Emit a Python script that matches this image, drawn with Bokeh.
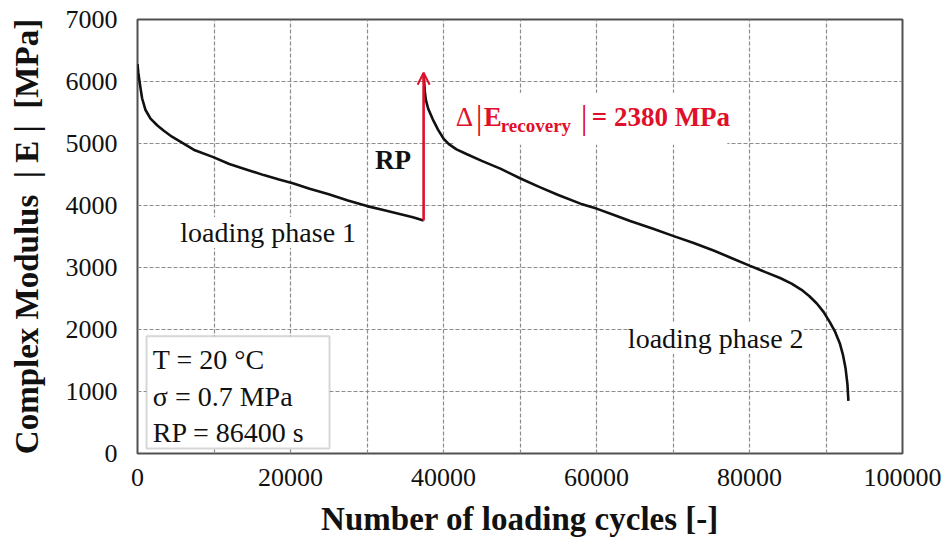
from bokeh.plotting import figure
from bokeh.models import (Label, BoxAnnotation, Arrow, OpenHead, FixedTicker,
                          SingleIntervalTicker, BasicTickFormatter, Range1d)
from bokeh.embed import file_html
from bokeh.resources import INLINE

# Complex modulus |E| [MPa] versus number of loading cycles
cycles_phase1 = [0, 100, 300, 600, 1050, 1700, 2600, 3400, 4500, 5600,
                 7500, 9900, 12000, 14500, 16500, 18500, 20300, 22500, 25000,
                 27500, 30000, 32000, 34000, 36000, 37400]
modulus_phase1 = [6280, 6150, 5970, 5730, 5540, 5400, 5290, 5210, 5110,
                  5030, 4890, 4780, 4670, 4570, 4490, 4420, 4360, 4270, 4180,
                  4080, 3990, 3930, 3870, 3810, 3760]

cycles_phase2 = [37400, 37550, 37700, 38000, 38600, 39300, 40000, 40700, 41700,
                 43000, 45000, 47500, 50000, 52500, 55000, 57900, 60000, 62200,
                 64400, 67400, 70000, 72700, 75300, 77700, 80000, 82000, 84000,
                 85500, 86800, 87800, 88800, 89700, 90500, 91200, 91800, 92200,
                 92550, 92800, 92930]
modulus_phase2 = [6140, 5850, 5700, 5560, 5390, 5220, 5080, 4990, 4905, 4830, 4720,
                  4590, 4440, 4300, 4170, 4030, 3950, 3850, 3750, 3625, 3510, 3395,
                  3275, 3150, 3030, 2930, 2830, 2740, 2640, 2540, 2420, 2280, 2120,
                  1960, 1780, 1600, 1380, 1120, 850]

# recovery after the rest period
rest_period_cycle = 37400
delta_e_recovery = 2380

x_ticks = [0, 20000, 40000, 60000, 80000, 100000]
y_ticks = [0, 1000, 2000, 3000, 4000, 5000, 6000, 7000]

test_conditions = ["T = 20 °C", "σ = 0.7 MPa", "RP = 86400 s"]

SERIF = "Liberation Serif"
RED = "#e0102a"
INK = "#111111"
NBSP = "\u00a0"

p = figure(frame_width=765, frame_height=434, min_border_left=137, min_border_right=47,
           min_border_top=19, min_border_bottom=90,
           x_range=Range1d(0, 100000), y_range=Range1d(0, 7000),
           output_backend="svg", toolbar_location=None)
p.background_fill_color = "white"
p.border_fill_color = "white"
p.outline_line_color = "#505050"
p.outline_line_width = 2

# axes
p.xaxis.ticker = FixedTicker(ticks=x_ticks)
p.yaxis.ticker = FixedTicker(ticks=y_ticks)
p.xaxis.formatter = BasicTickFormatter(use_scientific=False)
p.yaxis.formatter = BasicTickFormatter(use_scientific=False)
for ax in (p.xaxis[0], p.yaxis[0]):
    ax.axis_line_color = None
    ax.major_tick_line_color = None
    ax.minor_tick_line_color = None
    ax.major_label_text_font = SERIF
    ax.major_label_text_font_size = "26px"
    ax.major_label_text_color = INK
    ax.axis_label_text_font = SERIF
    ax.axis_label_text_font_style = "bold"
    ax.axis_label_text_font_size = "33px"
    ax.axis_label_text_color = INK
p.xaxis.axis_label = "Number of loading cycles [-]"
p.yaxis.axis_label = ("Complex Modulus" + NBSP * 2 + "|" + NBSP + "E" + NBSP + "|"
                      + NBSP * 2 + "[MPa]")
p.xaxis.major_label_standoff = 9
p.xaxis.axis_label_standoff = 12
p.yaxis.major_label_standoff = 14
p.yaxis.axis_label_standoff = 18

# grid
p.xgrid.ticker = SingleIntervalTicker(interval=10000)
p.ygrid.ticker = SingleIntervalTicker(interval=1000)
for g in (p.xgrid[0], p.ygrid[0]):
    g.grid_line_color = "#8c8c8c"
    g.grid_line_dash = "4 2"
    g.grid_line_width = 1.2

# curves
p.line(cycles_phase1, modulus_phase1, line_color=INK, line_width=2.6)
p.line(cycles_phase2, modulus_phase2, line_color=INK, line_width=2.6)

# recovery arrow
e_before = modulus_phase1[-1]
p.add_layout(Arrow(end=OpenHead(size=12, line_color=RED, line_width=2),
                   x_start=rest_period_cycle, y_start=e_before,
                   x_end=rest_period_cycle, y_end=e_before + delta_e_recovery,
                   line_color=RED, line_width=2.6))

p.add_layout(Label(x=33400, y=4730, text="RP", text_font=SERIF, text_font_style="bold",
                   text_font_size="27px", text_color=INK,
                   text_align="center", text_baseline="middle"))

p.add_layout(Label(x=5600, y=3565, text="loading phase 1", text_font=SERIF,
                   text_font_size="28px", text_color=INK,
                   text_align="left", text_baseline="middle",
                   background_fill_color="white"))
p.add_layout(Label(x=64100, y=1855, text="loading phase 2", text_font=SERIF,
                   text_font_size="28px", text_color=INK,
                   text_align="left", text_baseline="middle",
                   background_fill_color="white"))

# Δ|E_recovery| = 2380 MPa
ax0, ay0 = 41600, 5420
p.add_layout(BoxAnnotation(left=41300, right=77100, bottom=4980, top=5820,
                           fill_color="white", fill_alpha=1.0, line_color=None))
pieces = [
    ("Δ", 0, 0, "normal", "27px"),
    ("|", 20, 0, "normal", "34px"),
    ("E", 28, 0, "bold", "27px"),
    ("recovery", 45, -8, "bold", "19px"),
    ("|", 125, 0, "normal", "34px"),
    ("= " + str(delta_e_recovery) + " MPa", 136, 0, "bold", "27px"),
]
for txt, dx, dy, style, size in pieces:
    p.add_layout(Label(x=ax0, y=ay0, x_offset=dx, y_offset=dy, text=txt,
                       text_font=SERIF, text_font_style=style, text_font_size=size,
                       text_color=RED, text_align="left", text_baseline="middle"))

# test conditions box
p.add_layout(BoxAnnotation(left=1180, right=25100, bottom=80, top=1890,
                           fill_color="white", fill_alpha=1.0,
                           line_color="#7a7a7a", line_width=2))
for txt, yy in zip(test_conditions, [1520, 920, 340]):
    p.add_layout(Label(x=2000, y=yy, text=txt, text_font=SERIF,
                       text_font_size="28px", text_color=INK,
                       text_align="left", text_baseline="middle"))

open("out.html", "w").write(file_html(p, INLINE))
